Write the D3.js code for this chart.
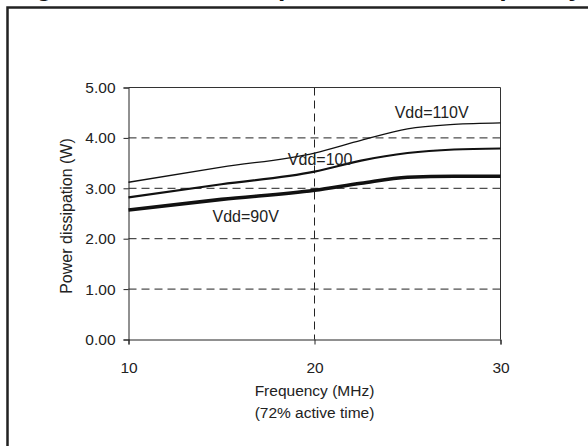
<!DOCTYPE html>
<html>
<head>
<meta charset="utf-8">
<script src="https://cdn.jsdelivr.net/npm/d3@7"></script>
<style>
  body { margin: 0; background: #fff; }
  text { font-family: Arial, "Liberation Sans", sans-serif; fill: #222; }
</style>
</head>
<body>
<div id="canvas"></div>
<script>
// frequency points (MHz)
const freq = [10, 15, 20, 22.5, 25, 27.5, 30];
// power dissipation (W) per supply voltage
const vdd110 = [3.12, 3.42, 3.70, 3.95, 4.18, 4.27, 4.30];
const vdd100 = [2.82, 3.08, 3.33, 3.55, 3.70, 3.77, 3.79];
const vdd90 = [2.57, 2.78, 2.96, 3.10, 3.22, 3.24, 3.24];
const seriesNames = ["Vdd=110V", "Vdd=100", "Vdd=90V"];
const xTicks = [10, 20, 30];
const yTicks = [0, 1, 2, 3, 4, 5];
const title = "Figure 1: Power dissipation versus frequency";

const width = 588;
const height = 446;

const svg = d3.select("#canvas").append("svg")
  .attr("width", width)
  .attr("height", height);

// title, cut off above the frame (only descenders show)
svg.append("text")
  .attr("x", 12.5)
  .attr("y", -4)
  .style("font-size", "26.4px")
  .style("font-weight", "bold")
  .style("fill", "#111")
  .text(title);

// outer frame (left + top only visible)
svg.append("path")
  .attr("d", "M7.5,450V7.5H600")
  .attr("fill", "none")
  .attr("stroke", "#222")
  .attr("stroke-width", 2.5);

const x = d3.scaleLinear().domain([10, 30]).range([128.5, 500.5]);
const y = d3.scaleLinear().domain([0, 5]).range([339.5, 87.5]);

const g = svg.append("g");

// dashed grid
g.selectAll(".hgrid").data(yTicks.filter(d => d > 0 && d < 5))
  .enter().append("line")
  .attr("x1", x(10)).attr("x2", x(30))
  .attr("y1", d => y(d)).attr("y2", d => y(d))
  .attr("stroke", "#222")
  .attr("stroke-dasharray", "8,5");

g.append("line")
  .attr("x1", x(20)).attr("x2", x(20))
  .attr("y1", y(5)).attr("y2", y(0))
  .attr("stroke", "#222")
  .attr("stroke-dasharray", "8,5");

// plot border (top/right)
g.append("path")
  .attr("d", `M${x(10)},${y(5)}H${x(30)}V${y(0)}`)
  .attr("fill", "none")
  .attr("stroke", "#333");

// axes
const xAxis = g.append("g")
  .attr("transform", `translate(0,${y(0)})`)
  .call(d3.axisBottom(x).tickValues(xTicks).tickSize(5).tickPadding(17).tickFormat(d3.format("d")));
const yAxis = g.append("g")
  .attr("transform", `translate(${x(10)},0)`)
  .call(d3.axisLeft(y).tickValues(yTicks).tickSize(5).tickPadding(8).tickFormat(d3.format(".2f")));

[xAxis, yAxis].forEach(a => {
  a.select(".domain").attr("stroke", "#222");
  a.selectAll(".tick line").attr("stroke", "#222");
  a.selectAll("text").style("font-size", "15.5px").style("font-family", "Arial, 'Liberation Sans', sans-serif").attr("fill", "#222");
});

// lines
const line = d3.line()
  .x((d, i) => x(freq[i]))
  .y(d => y(d))
  .curve(d3.curveMonotoneX);

const series = [
  { vals: vdd110, w: 1.3 },
  { vals: vdd100, w: 2.2 },
  { vals: vdd90, w: 3.6 },
];
g.selectAll(".series").data(series).enter().append("path")
  .attr("d", d => line(d.vals))
  .attr("fill", "none")
  .attr("stroke", "#111")
  .attr("stroke-width", d => d.w);

// series labels
const labelPos = [
  { f: 26.3, v: 4.5 },
  { f: 20.3, v: 3.57 },
  { f: 16.3, v: 2.44 },
];
g.selectAll(".lbl").data(seriesNames).enter().append("text")
  .attr("x", (d, i) => x(labelPos[i].f))
  .attr("y", (d, i) => y(labelPos[i].v))
  .attr("text-anchor", "middle")
  .attr("dy", "0.35em")
  .style("font-size", "16px")
  .text(d => d);

// axis titles
svg.append("text")
  .attr("x", x(20)).attr("y", 396)
  .attr("text-anchor", "middle")
  .style("font-size", "15.5px")
  .text("Frequency (MHz)");
svg.append("text")
  .attr("x", x(20)).attr("y", 418)
  .attr("text-anchor", "middle")
  .style("font-size", "15.5px")
  .text("(72% active time)");
svg.append("text")
  .attr("transform", `translate(72,${y(2.45)}) rotate(-90)`)
  .attr("text-anchor", "middle")
  .style("font-size", "16px")
  .text("Power dissipation (W)");
</script>
</body>
</html>
